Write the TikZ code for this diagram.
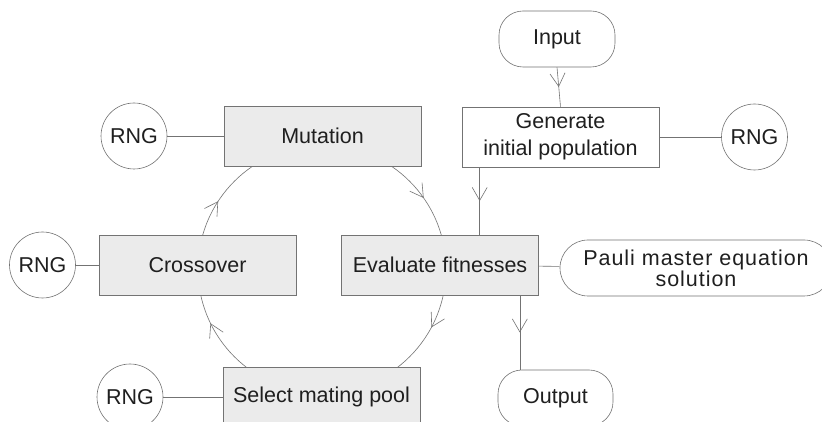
\documentclass[tikz,border=0pt]{standalone}
\usepackage{fontspec}
\setmainfont{Liberation Sans}
\newfontfamily\paulifont[LetterSpace=4.5]{Liberation Sans}
\usetikzlibrary{arrows.meta,decorations.markings}
\tikzset{
  x=1pt,y=1pt,
  every node/.style={font=\fontsize{21.5}{27}\selectfont, text=black!88},
  ln/.style={draw=black!55, line width=0.6pt},
  graybox/.style={ln, fill=black!8, minimum width=197pt, minimum height=60pt, inner sep=0pt},
  whitebox/.style={ln, fill=white, minimum width=197pt, minimum height=60pt, inner sep=0pt, align=center},
  rng/.style={ln, circle, fill=white, minimum size=66pt, inner sep=0pt},
  term/.style={ln, fill=white, rounded corners=24pt, minimum width=116pt, minimum height=56pt, inner sep=0pt},
  mid/.style={ln, postaction={decorate}, decoration={markings, mark=at position 0.5 with {\arrow[black!55,line width=0.6pt]{Straight Barb[length=13pt,width=15pt]}}}}
}
\begin{document}
\begin{tikzpicture}
\useasboundingbox (0,0) rectangle (822,422);
\clip (0,0) rectangle (822,422);
\fill[white] (0,0) rectangle (822,422);
% cycle circle
\coordinate (cc) at (322,153);
\draw[ln, postaction={decorate}, decoration={markings,
  mark=at position 0.097 with {\arrowreversed[black!55,line width=0.6pt]{Straight Barb[length=13pt,width=15pt]}},
  mark=at position 0.408 with {\arrowreversed[black!55,line width=0.6pt]{Straight Barb[length=13pt,width=15pt]}},
  mark=at position 0.572 with {\arrowreversed[black!55,line width=0.6pt]{Straight Barb[length=13pt,width=15pt]}},
  mark=at position 0.922 with {\arrowreversed[black!55,line width=0.6pt]{Straight Barb[length=13pt,width=15pt]}}}]
  (cc) circle (124pt);
% nodes
\node[term] (in) at (557,383) {Input};
\node[whitebox] (gen) at (560.5,285) {Generate\\initial population};
\node[rng] (rngr) at (754.5,285) {RNG};
\node[graybox] (mut) at (322.5,286) {Mutation};
\node[rng] (rng1) at (134,286) {RNG};
\node[graybox] (cro) at (197.5,157) {Crossover};
\node[rng] (rng2) at (42.5,157) {RNG};
\node[graybox] (ev) at (440,157) {Evaluate fitnesses};
\node[ln, fill=white, rounded corners=28pt, minimum width=272pt, minimum height=56pt, inner sep=0pt, align=center, font=\paulifont\fontsize{21.5}{21}\selectfont] (pau) at (696,154) {Pauli master equation\\solution};
\node[graybox] (sel) at (321.5,25) {Select mating pool};
\node[rng] (rng3) at (130,25) {RNG};
\node[term, minimum width=115pt] (out) at (555.5,24) {Output};
% connectors
\draw[ln] (rng1) -- (mut);
\draw[ln] (gen) -- (rngr);
\draw[ln] (rng2) -- (cro);
\draw[ln] (ev) -- (pau);
\draw[ln] (rng3) -- (sel);
\draw[mid] (in.south) -- (gen.north);
\draw[mid] ([xshift=18pt]gen.south west) -- ([xshift=18pt]gen.south west |- ev.north);
\draw[mid] ([xshift=-19pt]ev.south east) -- ([xshift=-19pt]ev.south east |- out.north);
\end{tikzpicture}
\end{document}
